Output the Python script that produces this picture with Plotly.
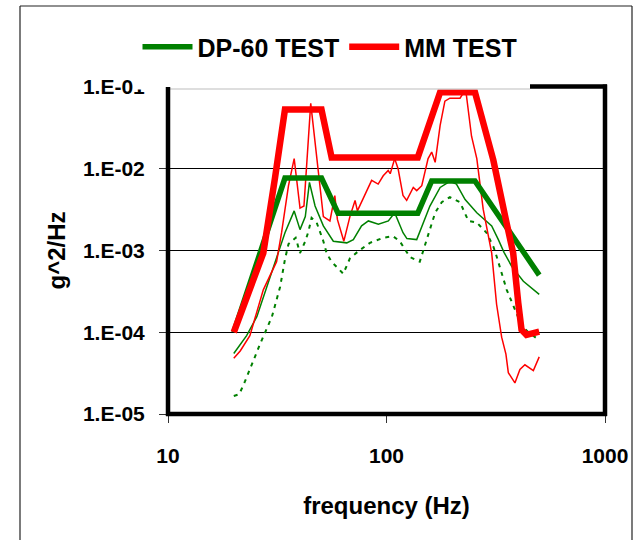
import plotly.graph_objects as go

# ---- data ----
dp60_spec_f = [20, 34.3, 50.4, 60, 139, 161, 254, 500]
dp60_spec_v = [1e-4, 7.7e-3, 7.7e-3, 2.86e-3, 2.86e-3, 7.1e-3, 7.1e-3, 5e-4]

mm_spec_f = [20, 27.3, 30.9, 33.7, 34.3, 50.4, 53.2, 56.1, 139, 176, 254, 308, 352, 380, 401, 415, 437, 500]
mm_spec_v = [1e-4, 9.3e-4, 7.8e-3, 3.9e-2, 5.3e-2, 5.3e-2, 2.85e-2, 1.37e-2, 1.37e-2, 8.65e-2, 8.65e-2,
             1.29e-2, 2.37e-3, 9.3e-4, 2.27e-4, 1.07e-4, 9.3e-5, 1.02e-4]

mm_meas_f = [20, 21.4, 23.7, 27.3, 31.4, 33.1, 35.6, 37.8, 40.2, 41.9, 45, 47.9, 51.4, 55.1, 58, 59.6,
             63.8, 68, 71.8, 73.6, 81, 85.5, 91.6, 96.6, 101.8, 104, 109, 113, 119, 123.7, 132.6, 137.5,
             145, 155, 161, 167, 176, 185, 195, 217, 225, 232, 245, 259, 277, 303, 319, 336.5, 352, 361,
             387, 408, 430, 470, 500]
mm_meas_v = [4.8e-5, 5.9e-5, 9.1e-5, 3.3e-4, 7.3e-4, 1.65e-3, 6.2e-3, 1.33e-2, 3.3e-3, 3.5e-3, 6.3e-2,
             1.33e-2, 2.6e-3, 2.3e-3, 4.7e-3, 2.4e-3, 1.3e-3, 2.6e-3, 4.1e-3, 3.05e-3, 5.4e-3, 7.2e-3,
             6.5e-3, 8.2e-3, 9.5e-3, 8.7e-3, 1.33e-2, 1.0e-2, 4.7e-3, 4.1e-3, 5.9e-3, 5.4e-3, 6.2e-3,
             1.33e-2, 1.6e-2, 1.2e-2, 3.4e-2, 6.7e-2, 7.3e-2, 7.3e-2, 8.5e-2, 8.0e-2, 2.5e-2, 1.33e-2,
             3.2e-3, 9.3e-4, 2.2e-4, 8.7e-5, 5.4e-5, 3.2e-5, 2.4e-5, 3.5e-5, 4.0e-5, 3.4e-5, 5.0e-5]

dp60_meas_f = [20, 22.9, 25.5, 27.8, 30.3, 32, 34.3, 37.8, 40.2, 42.5, 44.4, 47.1, 51.4, 57.1, 65.8, 70.5,
               76.9, 82.6, 91.8, 102, 109, 119, 124, 137.5, 147, 158, 176, 195, 209, 229, 259, 303, 325,
               345, 374, 423, 500]
dp60_meas_v = [5.5e-5, 9.1e-5, 1.55e-4, 3.1e-4, 5.8e-4, 9.3e-4, 1.65e-3, 3.05e-3, 1.8e-3, 2.6e-3, 6.8e-3,
               3.5e-3, 2.0e-3, 1.3e-3, 1.24e-3, 1.36e-3, 2.0e-3, 2.3e-3, 2.1e-3, 2.3e-3, 2.9e-3, 1.65e-3,
               1.4e-3, 1.36e-3, 2.2e-3, 3.5e-3, 5.9e-3, 7.0e-3, 6.5e-3, 4.2e-3, 2.9e-3, 2.0e-3, 1.36e-3,
               9.5e-4, 6.4e-4, 4.2e-4, 2.9e-4]

dp60_low_f = [20, 21.2, 22.5, 26.4, 29.9, 32.6, 34.3, 35.6, 38.4, 40.2, 42.5, 43.9, 45.4, 47.9, 51.4, 53.2,
              56, 63.4, 68, 74.3, 84, 96.6, 107, 115, 128, 142, 147, 155, 167, 179, 195, 217, 237, 259,
              287, 309, 319, 355, 387, 416, 446, 500]
dp60_low_v = [1.66e-5, 1.75e-5, 2.5e-5, 7.2e-5, 1.55e-4, 3.6e-4, 7.8e-4, 1.2e-3, 1.43e-3, 9.3e-4, 1.3e-3,
              1.7e-3, 2.5e-3, 2.2e-3, 1.3e-3, 9.3e-4, 7.3e-4, 5.2e-4, 8.0e-4, 9.8e-4, 1.24e-3, 1.43e-3,
              1.5e-3, 1.3e-3, 8.3e-4, 7.3e-4, 9.8e-4, 1.5e-3, 2.9e-3, 3.9e-3, 4.5e-3, 3.9e-3, 2.3e-3,
              2.2e-3, 1.65e-3, 1.1e-3, 8.5e-4, 3.3e-4, 1.9e-4, 1.2e-4, 1.0e-4, 8.0e-5]

x_tickvals = [10, 100, 1000]
x_ticktext = ["10", "100", "1000"]
y_tickvals = [1e-5, 1e-4, 1e-3, 1e-2, 1e-1]
y_ticktext = ["1.E-05", "1.E-04", "1.E-03", "1.E-02", "1.E-01"]

GREEN = "#008000"
RED = "#ff0000"
FONT = "Liberation Sans, Arial, sans-serif"

fig = go.Figure()
fig.add_trace(go.Scatter(x=dp60_low_f, y=dp60_low_v, mode="lines", showlegend=False,
                         line=dict(color=GREEN, width=2, dash="4px,5px")))
fig.add_trace(go.Scatter(x=dp60_meas_f, y=dp60_meas_v, mode="lines", showlegend=False,
                         line=dict(color=GREEN, width=1.5)))
fig.add_trace(go.Scatter(x=mm_meas_f, y=mm_meas_v, mode="lines", showlegend=False,
                         line=dict(color=RED, width=1.5)))
fig.add_trace(go.Scatter(x=dp60_spec_f, y=dp60_spec_v, mode="lines", name="DP-60 TEST",
                         line=dict(color=GREEN, width=5.5)))
fig.add_trace(go.Scatter(x=mm_spec_f, y=mm_spec_v, mode="lines", name="MM TEST",
                         line=dict(color=RED, width=6.5)))

W, H = 639, 540
L, R, T, B = 168, 605, 87, 414
pw, ph = R - L, B - T


def px(xp):
    return (xp - L) / pw


def py(yp):
    return (B - yp) / ph


tickfont = dict(family=FONT, size=21, color="black", weight="bold")

fig.update_layout(
    width=W, height=H,
    margin=dict(l=L, r=W - R, t=T, b=H - B, pad=0),
    paper_bgcolor="white", plot_bgcolor="white",
    font=dict(family=FONT, color="black"),
    xaxis=dict(type="log", range=[1, 3], showgrid=False, zeroline=False, showline=False,
               tickmode="array", tickvals=x_tickvals, ticktext=x_ticktext,
               ticks="outside", ticklen=8, tickwidth=1, tickcolor="#333",
               tickfont=tickfont, ticklabelstandoff=15,
               title=dict(text="frequency (Hz)", font=dict(family=FONT, size=24, weight="bold"),
                          standoff=30)),
    yaxis=dict(type="log", range=[-5, -1], showgrid=True, gridcolor="black", gridwidth=1,
               zeroline=False, showline=False,
               tickmode="array", tickvals=y_tickvals, ticktext=y_ticktext,
               ticks="outside", ticklen=8, tickwidth=1, tickcolor="#333",
               tickfont=tickfont, ticklabelstandoff=10,
               title=dict(text="g^2/Hz", font=dict(family=FONT, size=24, weight="bold"),
                          standoff=10)),
    legend=dict(orientation="h", x=px(330), xanchor="center", y=py(47), yanchor="middle",
                font=dict(family=FONT, size=25, weight="bold", color="black"),
                bgcolor="rgba(0,0,0,0)", itemwidth=50, tracegroupgap=0),
)

shapes = []
# white box (legend area) hiding part of the top border and the top tick label
shapes.append(dict(type="rect", xref="paper", yref="paper", x0=px(133), x1=px(530), y0=py(89.5), y1=py(6.5),
                   fillcolor="white", line=dict(width=0), layer="above"))
shapes.append(dict(type="line", xref="paper", yref="paper", x0=0, x1=px(530), y0=py(89), y1=py(89),
                   line=dict(color="#bdbdbd", width=1), layer="above"))
# thick plot borders
bw = 4.5
shapes.append(dict(type="line", xref="paper", yref="paper", x0=0, x1=0, y0=py(416), y1=py(87),
                   line=dict(color="black", width=bw), layer="above"))
shapes.append(dict(type="line", xref="paper", yref="paper", x0=px(166), x1=px(607), y0=0, y1=0,
                   line=dict(color="black", width=bw), layer="above"))
shapes.append(dict(type="line", xref="paper", yref="paper", x0=1, x1=1, y0=py(416), y1=py(84.5),
                   line=dict(color="black", width=bw), layer="above"))
shapes.append(dict(type="line", xref="paper", yref="paper", x0=px(530), x1=px(607), y0=py(86.5), y1=py(86.5),
                   line=dict(color="black", width=bw), layer="above"))
# outer chart frame
shapes.append(dict(type="line", xref="paper", yref="paper", x0=px(20), x1=px(20), y0=py(560), y1=py(6),
                   line=dict(color="#222", width=1.2), layer="above"))
shapes.append(dict(type="line", xref="paper", yref="paper", x0=px(20), x1=px(632), y0=py(6), y1=py(6),
                   line=dict(color="#222", width=1.2), layer="above"))
shapes.append(dict(type="line", xref="paper", yref="paper", x0=px(632), x1=px(632), y0=py(560), y1=py(6),
                   line=dict(color="#222", width=1.2), layer="above"))
fig.update_layout(shapes=shapes)

fig.write_html("out.html")
